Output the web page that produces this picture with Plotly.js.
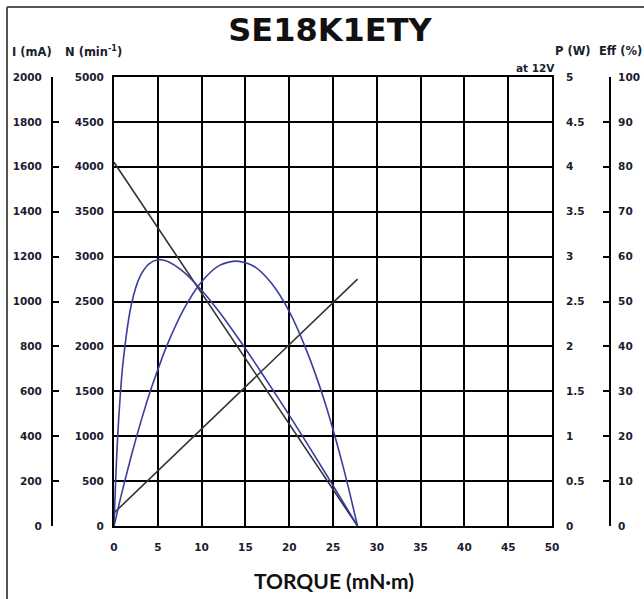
<!DOCTYPE html>
<html>
<head>
<meta charset="utf-8">
<script src="https://cdn.plot.ly/plotly-3.0.1.min.js"></script>
<style>html,body{margin:0;padding:0;background:#fff;}</style>
</head>
<body>
<div id="chart" style="width:644px;height:599px;"></div>
<script>
// Straight lines (speed and current) end points
var lineTorque = [0, 27.8];
var speed = [4050, 0];          // N (min^-1)
var current = [58, 1100];       // I (mA)

// Curves (power and efficiency)
var curveTorque = [0, 0.2, 0.5, 1, 2, 3, 4, 5, 6, 8, 10, 12, 14, 16, 18, 20, 22, 24, 26, 27, 27.8];
var power = [0, 0.08, 0.21, 0.41, 0.79, 1.14, 1.46, 1.74, 2.0, 2.42, 2.72, 2.9, 2.95, 2.89, 2.7, 2.39, 1.95, 1.4, 0.72, 0.33, 0];
var efficiency = [0, 10.7, 22.7, 35.8, 49.5, 55.7, 58.4, 59.3, 59.0, 56.5, 52.5, 47.7, 42.3, 36.6, 30.7, 24.7, 18.5, 12.2, 5.8, 2.6, 0];

var W = 644, H = 599;
function px(x){ return x / W; }
function py(y){ return 1 - y / H; }

var tickFont = {family: 'DejaVu Sans', size: 10.5, weight: 'bold', color: '#1c1c30'};
var headFont = {family: 'DejaVu Sans', size: 11.5, weight: 'bold', color: '#1c1c30'};
var blue = '#3a3e9c';
var dark = '#333333';

var traces = [
  {x: lineTorque, y: speed, type: 'scatter', mode: 'lines', yaxis: 'y', line: {color: dark, width: 1.6}, hoverinfo: 'skip'},
  {x: lineTorque, y: current, type: 'scatter', mode: 'lines', yaxis: 'y2', line: {color: dark, width: 1.6}, hoverinfo: 'skip'},
  {x: curveTorque, y: power, type: 'scatter', mode: 'lines', yaxis: 'y3', line: {color: blue, width: 1.6, shape: 'spline', smoothing: 0.8}, hoverinfo: 'skip'},
  {x: curveTorque, y: efficiency, type: 'scatter', mode: 'lines', yaxis: 'y4', line: {color: blue, width: 1.6, shape: 'spline', smoothing: 0.8}, hoverinfo: 'skip'}
];

var yDom = [py(526), py(77)];

var layout = {
  width: W, height: H,
  margin: {l: 0, r: 0, t: 0, b: 0},
  paper_bgcolor: '#fff', plot_bgcolor: '#fff',
  showlegend: false,
  title: {text: 'SE18K1ETY', font: {family: 'DejaVu Sans', size: 32, weight: 'bold', color: '#111'},
          xref: 'container', yref: 'container', x: 330 / W, xanchor: 'center', y: 1 - 30 / H, yanchor: 'middle'},
  xaxis: {domain: [px(114), px(552)], range: [0, 50], dtick: 5, tick0: 0,
          showgrid: true, gridcolor: '#000', gridwidth: 2, zeroline: false,
          showline: true, linecolor: '#000', linewidth: 2, mirror: true,
          ticks: '', tickfont: tickFont, ticklabelstandoff: 10, fixedrange: true},
  yaxis: {domain: yDom, range: [0, 5000], dtick: 500, tick0: 0,
          showgrid: true, gridcolor: '#000', gridwidth: 2, zeroline: false,
          showline: true, linecolor: '#000', linewidth: 2, mirror: true,
          ticks: '', tickfont: tickFont, ticklabelstandoff: 6, fixedrange: true},
  yaxis2: {overlaying: 'y', anchor: 'free', position: px(52), side: 'left', domain: yDom,
           range: [0, 2000], dtick: 200, tick0: 0, showgrid: false, zeroline: false,
           showline: true, linecolor: '#000', linewidth: 2,
           ticks: 'inside', ticklen: 6, tickwidth: 2, tickcolor: '#000',
           tickfont: tickFont, ticklabelstandoff: 7, fixedrange: true},
  yaxis3: {overlaying: 'y', anchor: 'x', side: 'right', domain: yDom,
           range: [0, 5], dtick: 0.5, tick0: 0, showgrid: false, zeroline: false, showline: false,
           ticks: '', tickfont: tickFont, ticklabelstandoff: 13, fixedrange: true},
  yaxis4: {overlaying: 'y', anchor: 'free', position: px(610), side: 'right', domain: yDom,
           range: [0, 100], dtick: 10, tick0: 0, showgrid: false, zeroline: false,
           showline: true, linecolor: '#000', linewidth: 2,
           ticks: 'inside', ticklen: 6, tickwidth: 2, tickcolor: '#000',
           tickfont: tickFont, ticklabelstandoff: 5, fixedrange: true},
  shapes: [
    {type: 'line', xref: 'paper', yref: 'paper', x0: px(7), x1: px(7), y0: py(7), y1: -0.05, line: {color: '#555', width: 2}},
    {type: 'line', xref: 'paper', yref: 'paper', x0: px(7), x1: 1.05, y0: py(7), y1: py(7), line: {color: '#555', width: 2}}
  ],
  annotations: [
    {text: 'I (mA)', xref: 'paper', yref: 'paper', x: px(32), y: py(52), xanchor: 'center', yanchor: 'middle', showarrow: false, font: headFont},
    {text: 'N (min<sup>-1</sup>)', xref: 'paper', yref: 'paper', x: px(93), y: py(52), xanchor: 'center', yanchor: 'middle', showarrow: false, font: headFont},
    {text: 'P (W)', xref: 'paper', yref: 'paper', x: px(573), y: py(51), xanchor: 'center', yanchor: 'middle', showarrow: false, font: headFont},
    {text: 'Eff (%)', xref: 'paper', yref: 'paper', x: px(620), y: py(51), xanchor: 'center', yanchor: 'middle', showarrow: false, font: headFont},
    {text: 'at 12V', xref: 'paper', yref: 'paper', x: px(535), y: py(68), xanchor: 'center', yanchor: 'middle', showarrow: false, font: {family: 'DejaVu Sans', size: 10.5, weight: 'bold', color: '#1c1c30'}},
    {text: 'TORQUE (mN·m)', xref: 'paper', yref: 'paper', x: px(334), y: py(580), xanchor: 'center', yanchor: 'middle', showarrow: false, font: {family: 'Lato', size: 21, weight: 'bold', color: '#111'}}
  ]
};

Plotly.newPlot('chart', traces, layout, {staticPlot: true, displayModeBar: false});
</script>
</body>
</html>
